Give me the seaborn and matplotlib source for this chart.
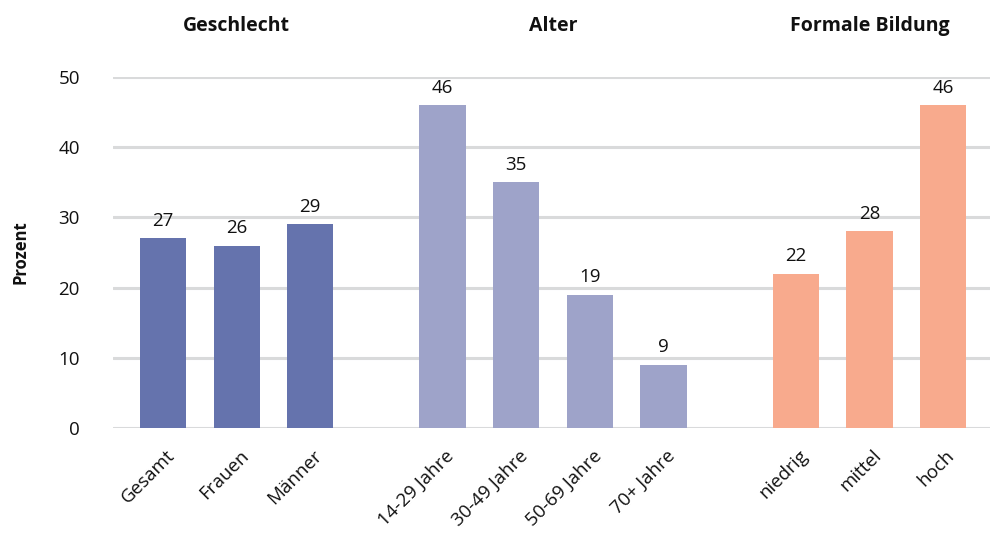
import matplotlib
matplotlib.use("Agg")
import matplotlib.pyplot as plt
import seaborn as sns
import pandas as pd

# Category labels, grouping and values (percent)
categories = ["Gesamt", "Frauen", "Männer",
              "14-29 Jahre", "30-49 Jahre", "50-69 Jahre", "70+ Jahre",
              "niedrig", "mittel", "hoch"]
groups = ["Geschlecht"] * 3 + ["Alter"] * 4 + ["Formale Bildung"] * 3
values = [27, 26, 29, 46, 35, 19, 9, 22, 28, 46]
group_titles = ["Geschlecht", "Alter", "Formale Bildung"]
group_colors = ["#6573ad", "#9ea3c9", "#f8aa8d"]
y_ticks = [0, 10, 20, 30, 40, 50]

# x positions: unit spacing inside a group, wider gap between groups
group_gap = 1.8
positions = []
x = 0.0
prev = None
for g in groups:
    if prev is not None:
        x += 1.0 if g == prev else group_gap
    positions.append(x)
    prev = g

df = pd.DataFrame({"pos": positions, "value": values, "group": groups,
                   "label": categories})

sns.set_theme(style="white")
plt.rcParams["font.family"] = ["Open Sans", "DejaVu Sans"]

fig = plt.figure(figsize=(9.92, 5.35), dpi=100)
ax = fig.add_axes([0.114, 0.2, 0.884, 0.656])

sns.barplot(data=df, x="pos", y="value", hue="group",
            hue_order=group_titles, palette=group_colors,
            native_scale=True, dodge=False, width=0.63,
            legend=False, saturation=1, linewidth=0, ax=ax, zorder=3)

for cont in ax.containers:
    ax.bar_label(cont, fmt="%d", padding=6, fontsize=13.5, color="#111111")

ax.set_ylim(0, 50)
ax.set_xlim(positions[0] - 0.68, positions[-1] + 0.64)
ax.set_yticks(y_ticks)
ax.set_yticklabels([str(t) for t in y_ticks], fontsize=13.5, color="#111111")

# rotated category labels end slightly right of the bar centre
label_offset = 0.12
ax.set_xticks([p + label_offset for p in positions])
ax.set_xticklabels(categories, rotation=45, ha="right", va="center",
                   rotation_mode="anchor", fontsize=13.5, color="#111111")
ax.tick_params(axis="x", length=0, pad=18)
ax.tick_params(axis="y", length=0, pad=24)

ax.set_xlabel("")
ax.set_ylabel("Prozent", fontsize=12, fontweight="bold", labelpad=21,
              color="#111111")

ax.yaxis.grid(True, color="#d9dadb", linewidth=2.2, zorder=0)
ax.set_axisbelow(True)
for s in ax.spines.values():
    s.set_visible(False)

# Group headings centred over each block of bars
for title in group_titles:
    xs = [p for p, g in zip(positions, groups) if g == title]
    ax.text((xs[0] + xs[-1]) / 2, 1.145, title, transform=ax.get_xaxis_transform(),
            ha="center", va="center", fontsize=14, fontweight="bold",
            color="#111111")

fig.savefig("out.png", dpi=100, facecolor="white")
